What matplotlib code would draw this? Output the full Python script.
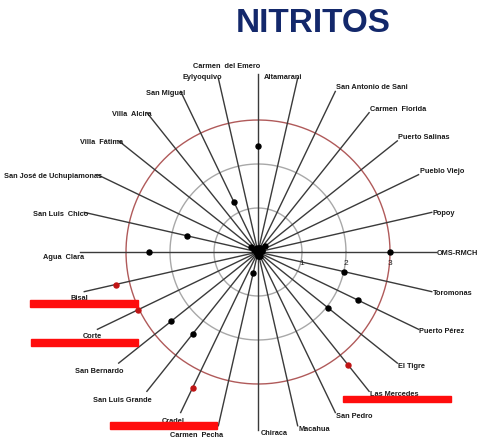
import numpy as np
import matplotlib
matplotlib.use("Agg")
import matplotlib.pyplot as plt
from matplotlib.patches import Rectangle

plt.rcParams['font.family'] = ['Liberation Sans', 'DejaVu Sans']

# ---- data (counter-clockwise from the east axis) ----
sites = ["OMS-RMCH", "Popoy", "Pueblo Viejo", "Puerto Salinas", "Carmen  Florida",
         "San Antonio de Sani", "Altamarani", "Carmen  del Emero", "Eylyoquivo",
         "San Miguel", "Villa  Alcira", "Villa  Fátima", "San José de Uchupiamonas",
         "San Luis  Chico", "Agua  Clara", "Bisal", "Corte", "San Bernardo",
         "San Luis Grande", "Cradel", "Carmen  Pecha", "Chiraca", "Macahua",
         "San Pedro", "Las Mercedes", "El Tigre", "Puerto Pérez", "Toromonas"]
values = [3.0, 0.1, 0.1, 0.21, 0.1, 0.1, 0.1, 2.4, 0.1, 1.27, 0.1, 0.19, 0.1,
          1.66, 2.48, 3.32, 3.03, 2.52, 2.37, 3.42, 0.5, 0.1, 0.1, 0.1, 3.29,
          2.03, 2.52, 2.01]
limit = 3.0
ring_levels = [1, 2, 3]
ring_labels = ["1", "2", "3"]

W, H = 479, 444
fig = plt.figure(figsize=(W / 100, H / 100), dpi=100)

cx, cy = 258, 252          # centre in pixels (from top-left)
unit = 44.0                # pixels per unit
rmax = 4.2
rad = rmax * unit
ax = fig.add_axes([(cx - rad) / W, (H - cy - rad) / H, 2 * rad / W, 2 * rad / H],
                  projection='polar')
ax.set_ylim(0, rmax)
ax.grid(False)
ax.set_xticks([])
ax.set_yticks([])
ax.spines['polar'].set_visible(False)
ax.patch.set_alpha(0)

n = len(sites)
theta = np.arange(n) * 2 * np.pi / n
spoke_len = 4.05

# rings
tt = np.linspace(0, 2 * np.pi, 400)
for lv in ring_levels:
    col = '#b05a5a' if lv == limit else '#a8a8a8'
    ax.plot(tt, np.full_like(tt, lv), color=col, lw=1.0, zorder=1)

# spokes
for th in theta:
    ax.plot([th, th], [0, spoke_len], color='#3a3a3a', lw=1.0, zorder=2)

# points
for th, v in zip(theta, values):
    c = '#c01515' if v > limit else 'black'
    ax.plot([th], [v], 'o', color=c, ms=3.6, mec=c, zorder=4)
ax.plot([0], [0], 'o', color='black', ms=6, zorder=4)

# ring tick labels
for lv, lab in zip(ring_levels, ring_labels):
    ax.annotate(lab, (0, lv), xytext=(0, -8), textcoords='offset points',
                ha='center', va='center', fontsize=6, color='#222222', zorder=6)

# site labels
for th, s in zip(theta, sites):
    c, sn = np.cos(th), np.sin(th)
    off = (0, 0)
    if abs(c) < 0.05:
        if sn > 0:
            ha, va, off = 'right', 'bottom', (1.5, 3)
        else:
            ha, va, off = 'left', 'top', (2, 0)
    elif sn > 0.95:
        ha, va, off = 'right', 'bottom', (3, -2)
    elif c > 0:
        ha = 'left'
        if sn > 0.4:
            va, off = 'bottom', (0.8, 0)
        else:
            va, off = 'center', (0.5, -1 + 2 * sn)
    else:
        ha = 'right'
        if sn < 0.05:
            va, off = 'top', (3.2, -(1.5 + 3.0 * abs(sn)))
        else:
            va, off = 'center', (3.2, -1.5)
    ax.annotate(s, (th, spoke_len), xytext=off, textcoords='offset points',
                ha=ha, va=va, fontsize=5.3, fontweight='bold', color='#1a1a1a',
                annotation_clip=False)

# title
fig.text(313 / W, 1 - 24 / H, "NITRITOS", ha='center', va='center',
         fontsize=24, fontweight='bold', color='#13286b')

# red highlight bars (pixel boxes: x0, x1, y0, y1)
bars = [(30, 138, 300, 307), (31, 138, 339, 346), (110, 217, 422, 429),
        (343, 451, 396, 402)]
for x0, x1, y0, y1 in bars:
    fig.patches.append(Rectangle((x0 / W, 1 - y1 / H), (x1 - x0) / W, (y1 - y0) / H,
                                 transform=fig.transFigure, color='#ff0d0d',
                                 zorder=10))

fig.savefig("out.png", dpi=100)
